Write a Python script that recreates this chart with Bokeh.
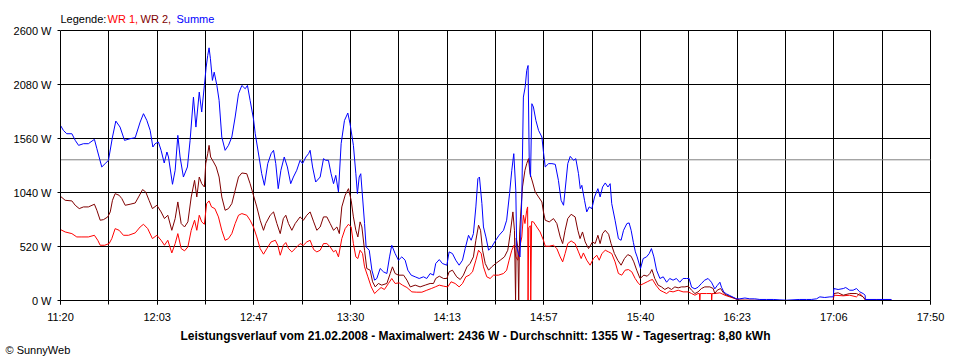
from bokeh.plotting import figure
from bokeh.models import Range1d, FixedTicker, CustomJSTickFormatter, Title
from bokeh.core.properties import value
from bokeh.embed import file_html
from bokeh.resources import INLINE

# ---------------- data (minutes after 11:20, watts) ----------------
x_tick_labels = ["11:20", "12:03", "12:47", "13:30", "14:13", "14:57", "15:40", "16:23", "17:06", "17:50"]
y_ticks = [0, 520, 1040, 1560, 2080, 2600]
avg_w = 1355

wr1_t = [0, 2.1, 5.1, 7.3, 9.6, 12.5, 15.2, 16.7, 17.8, 19.8, 21.8, 23, 24.5, 26.3, 28.2, 30.5, 33.5, 35.7, 37.2, 39.1,
         41.2, 43.2, 45.1, 46.6, 48.1, 49.9, 51.4, 52.6, 54.1, 55.6, 57.1, 58.6, 60.1, 61.1, 62.2, 63.3, 64.5, 65.5, 66.6,
         67.7, 69.2, 70.8, 72.3, 73.8, 75.3, 76.8, 78.3, 79.8, 81.3, 83.5, 85, 86.5, 88, 89.5, 91, 92.5, 94.4, 96.3, 97.4,
         98.5, 99.9, 101, 102.2, 103.7, 105.2, 107.4, 108.9, 110.4, 111.9, 113.5, 114.9, 116.4, 117.9, 119.4, 120.9, 122.4,
         123.4, 124.6, 126.1, 127.6, 129.1, 130.3, 131.3, 132.4, 133.3, 134.3, 135.4, 136.3, 137.8, 139.3, 140.8, 142.3,
         143.7, 145.2, 147, 148.5, 150, 151.8, 153.3, 155.3, 157.5, 159.7, 162, 164.2, 166.2, 168, 169.8, 171.7, 173.6,
         175.1, 176.9, 178.7, 180.2, 181.7, 183.2, 184.7, 186.2, 187.4, 188.6, 189.6, 191.1, 192.6, 194.1, 196.3, 198.6,
         200, 201.1, 202.3, 203.3, 204.1, 205, 205.9, 206.8, 207.5, 208.2, 209, 209.4, 209.6, 209.9, 210.6, 210.8, 211.2,
         212, 213.5, 215, 216.5, 217.3, 219.1, 221, 222.5, 224, 225.1, 226.2, 227.4, 228.9, 230.7, 232.2, 233.4, 234.4,
         235.9, 237.4, 238.9, 240.4, 241.5, 242.7, 244.2, 245.7, 247.1, 248.6, 250.1, 251.6, 253.1, 254.6, 256.1, 257.6,
         259.1, 260, 261.5, 263, 264.5, 265.4, 266.9, 268.7, 270.2, 271.7, 273.1, 274.6, 276.9, 279.1, 281.4, 282.9, 284.4,
         285.8, 286.4, 286.6, 286.8, 289.6, 291.8, 291.9, 292.1, 293.3, 295.6, 297.8, 300, 302.7, 304.5, 320, 346.4, 346.7,
         350.9, 353.8, 356.8, 358.3, 359.8, 360.8, 372.5]
wr1_w = [683, 660, 644, 612, 612, 612, 628, 580, 532, 532, 548, 596, 692, 676, 628, 628, 651, 708, 734, 692,
         596, 628, 580, 532, 580, 458, 548, 644, 500, 478, 516, 676, 773, 676, 821, 757, 734, 933, 959,
         901, 885, 805, 676, 580, 596, 644, 741, 821, 837, 821, 773, 708, 612, 500, 446, 500, 564, 580, 532,
         436, 532, 558, 500, 468, 500, 548, 532, 564, 580, 490, 468, 484, 548, 548, 516, 468,
         484, 420, 596, 692, 734, 708, 548, 420, 404, 484, 452, 324, 228, 131, 67, 99,
         125, 106, 164, 212, 164, 170, 148, 125, 83, 80, 80, 99, 115, 131, 148, 138, 131,
         180, 164, 131, 164, 228, 244, 276, 388, 484, 452, 324, 228, 212, 244, 244, 260,
         292, 388, 484, 532, 420, 388, 516, 612, 821, 741, 869, 901, 0, 700, 720, 0, 760,
         757, 708, 660, 580, 523, 523, 532, 500, 420, 372, 452, 548, 574, 548, 468, 404, 458,
         388, 340, 404, 436, 388, 452, 484, 468, 452, 372, 260, 244, 292, 298, 276, 212,
         164, 148, 164, 180, 196, 202, 148, 99, 83, 67, 90, 83, 99, 83, 83, 67, 51,
         67, 67, 0, 67, 67, 67, 0, 67, 67, 74, 51, 35, 16, 3, 0, 0, 51,
         45, 51, 35, 67, 35, 6, 3]

wr2_t = [0, 2.1, 5.1, 6.6, 8.4, 10.3, 12.5, 15.2, 16.3, 17.8, 19.3, 21.2, 22.3, 23.3, 24.5, 26.3, 27.5, 29, 31.2, 33.5,
         35, 36.8, 38.2, 39.7, 41.2, 43.2, 45.1, 46.6, 48.1, 49.9, 51.4, 52.6, 54.1, 55.6, 57.1, 58.6, 60.1, 61.1, 62.2,
         63.3, 64.5, 65.1, 66, 66.6, 67.3, 68.6, 69.8, 71.1, 72.3, 73.8, 75.3, 76.8, 78.3, 79.8, 81.3, 83.5, 85, 86.5, 88,
         89.5, 91, 92, 94, 95.5, 97, 98.5, 99.9, 101, 102.2, 103.7, 105.2, 107.4, 108.9, 110.4, 111.9, 113.5, 114.9, 116.4,
         117.9, 119.4, 120.9, 122.4, 123.9, 125, 126.1, 127.6, 129.1, 130.3, 131.3, 132.4, 133.3, 134.3, 135.1, 136.3,
         137.3, 138.8, 139.9, 141.1, 142.5, 144, 146.3, 147.8, 148.8, 150, 151.5, 153.8, 155.3, 156.8, 159, 161.2, 163.5,
         165.7, 167.2, 168.2, 169.8, 171.7, 173.2, 174.2, 175.7, 177.6, 179.2, 180.6, 182.2, 183.6, 185.1, 186.2, 187.4,
         188.3, 189.2, 190.4, 191.9, 193.3, 195.1, 197.1, 199, 200.5, 201.6, 202.8, 203.5, 204, 204.3, 205, 205.4, 205.8,
         206.2, 207.1, 208.2, 209, 209.8, 210.5, 211.6, 212.8, 214.3, 215.8, 216.5, 217.3, 219.1, 221, 222.5, 224, 225.1,
         226.2, 227.4, 228.9, 230.7, 231.9, 232.9, 234, 235.2, 236.7, 238.5, 239.7, 240.9, 241.9, 243, 244.2, 245.7,
         246.8, 248.3, 249.8, 251.3, 252.8, 254.3, 255.8, 257, 258.3, 259.8, 261.5, 263, 264.2, 265.1, 266.4, 267.9,
         269.4, 270.9, 272.4, 273.9, 275.4, 276.9, 278.4, 279.9, 281.4, 282.9, 284.4, 285.8, 287.3, 288.8, 291.1, 292.6,
         293.3, 294.4, 295.9, 297.4, 298.8, 300.8, 302.7, 304.5, 320, 346.4, 346.7, 348.6, 350.9, 353.8, 356.8, 359.8,
         360.8, 372.5]
wr2_w = [1003, 965, 959, 917, 885, 901, 901, 927, 869, 773, 779, 805, 853, 965, 1029, 1013, 981, 917, 927, 939,
         997, 1068, 1045, 965, 885, 917, 853, 789, 821, 676, 789, 949, 741, 708, 757, 997, 1157, 997, 1189,
         1125, 1093, 1318, 1414, 1494, 1382, 1334, 1286, 1189, 997, 869, 885, 933, 1061, 1189, 1228, 1221, 1125, 1013, 901,
         773, 676, 741, 821, 853, 741, 644, 789, 821, 741, 676, 741, 805, 773, 821, 853, 757, 676, 708,
         805, 805, 741, 676, 708, 644, 901, 1013, 1077, 965, 805, 676, 612, 757, 708, 484,
         308, 292, 180, 131, 164, 148, 164, 260, 324, 260, 244, 244, 196, 131, 148, 131, 148,
         164, 164, 212, 234, 212, 212, 276, 292, 228, 202, 244, 324, 356, 420, 580, 725,
         676, 484, 356, 292, 324, 356, 388, 420, 484, 644, 853, 676, 0, 600, 516, 0, 640,
         805, 1093, 1254, 1318, 1366, 1221, 1141, 1045, 997, 949, 853, 773, 757, 789, 741, 612, 548,
         676, 789, 830, 805, 676, 596, 660, 564, 500, 564, 548, 628, 548, 644, 676, 638,
         548, 452, 388, 340, 404, 442, 426, 372, 292, 212, 244, 234, 260, 298, 212, 148,
         131, 106, 125, 106, 131, 122, 131, 131, 138, 99, 67, 83, 115, 131, 131, 115,
         67, 99, 115, 67, 51, 35, 16, 3, 0, 0, 67, 74, 51, 67, 67, 35,
         6, 3]

sum_t = [0, 1.3, 2.8, 5.1, 6.6, 8.1, 10.3, 12.5, 15.2, 16.3, 18.5, 20, 21.5, 23.3, 24.8, 26.7, 28.7, 31.2, 33.5, 35.7,
         37.2, 38.7, 40.2, 41.4, 42.4, 43.9, 45.1, 46.5, 47.7, 48.4, 50.2, 51.4, 52.6, 53.6, 55.1, 56.9, 58.1, 59.6, 60.7,
         62.2, 63.3, 64.5, 65.3, 66, 66.6, 67.2, 68.1, 68.9, 70.1, 71.1, 72.3, 73.8, 75.3, 76.8, 78.3, 79.8, 81.3, 82.8,
         83.8, 85, 86.5, 87.3, 89, 90.2, 91.4, 92.9, 94.4, 95.5, 96.5, 97.6, 98.8, 100.3, 101.7, 103.2, 104.4, 105.9, 107.4,
         108.5, 110, 111.2, 111.9, 113, 114.4, 116.4, 117.9, 118.9, 120.1, 121.3, 122.4, 123.4, 124.6, 125.8, 127.3, 128.8,
         129.8, 131.3, 132.4, 133.1, 133.9, 134.6, 135.4, 136.3, 137, 138.4, 139.6, 140.8, 141.8, 143.3, 144.8, 146.3,
         147.5, 148.5, 150, 151.5, 153, 154.5, 155.7, 157.2, 159, 160.8, 162.7, 164.2, 165.7, 167.2, 168.2, 169.8, 171.2,
         173.2, 174.2, 175.7, 177.2, 178.7, 180.2, 181.4, 182.9, 184.1, 185.1, 186.2, 187.1, 187.8, 188.9, 189.6, 190.7,
         191.9, 193.3, 195.1, 196.6, 198.6, 200, 201.3, 202.3, 203.2, 204.1, 204.5, 205.3, 206, 206.8, 207.5, 208.3, 209,
         209.6, 210.1, 210.7, 211.3, 212, 213.1, 214.3, 215.8, 216.5, 217.3, 218.8, 220.3, 221.8, 223.2, 224.4, 225.5,
         226.2, 227.4, 228.5, 230, 231, 232.2, 233, 233.7, 234.9, 235.9, 237, 238.2, 239.4, 240.9, 241.9, 243, 244.2,
         245.4, 246.4, 247.1, 248.6, 250.1, 251.3, 252.4, 253.9, 254.9, 255.8, 256.8, 257.7, 258.5, 260, 261.2, 262.7,
         263.9, 264.9, 266, 267.2, 268.7, 270.2, 271.7, 273.1, 274.6, 276.1, 277.6, 279.1, 280.6, 281.8, 282.9, 284.4,
         285.8, 287.3, 288.8, 290.3, 291.8, 293.3, 294.4, 295.6, 296.3, 297.4, 298.5, 300, 301.5, 303, 304.5, 306.8, 309,
         311.2, 313.5, 316.5, 319.5, 322.5, 325.5, 331.4, 334.4, 336.6, 338.9, 340.4, 342.6, 344.9, 346.4, 346.7, 348.6,
         350.9, 352, 353.8, 355.3, 356.8, 358.3, 359.8, 360.7, 360.8, 365.8, 372.5]
sum_w = [1686, 1638, 1606, 1606, 1542, 1494, 1510, 1510, 1552, 1462, 1286, 1318, 1350, 1574, 1728, 1670, 1542, 1558, 1568, 1718,
         1799, 1734, 1638, 1478, 1510, 1526, 1446, 1324, 1430, 1382, 1119, 1254, 1590, 1382, 1189, 1286, 1542, 1959, 1670,
         2007, 1815, 2071, 2247, 2360, 2433, 2328, 2119, 2199, 2071, 1927, 1574, 1446, 1494, 1574, 1767, 1991, 2071, 2039,
         2071, 1927, 1750, 1606, 1382, 1221, 1109, 1318, 1414, 1446, 1318, 1077, 1254, 1382, 1286, 1125, 1189, 1254, 1350,
         1318, 1382, 1414, 1446, 1286, 1141, 1189, 1366, 1350, 1350, 1221, 1125, 1205, 1045, 1510, 1734, 1805,
         1702, 1494, 1221, 1029, 1189, 1221, 997, 741, 516, 484, 292, 196, 212, 308, 276, 260,
         420, 532, 452, 388, 420, 388, 292, 244, 228, 212, 228, 212, 260, 244, 356, 394, 356,
         340, 468, 452, 388, 340, 388, 500, 628, 580, 644, 901, 1173, 1189, 933, 708, 612,
         484, 516, 580, 628, 676, 773, 1029, 1254, 1414, 1061, 516, 452, 420, 997, 1959, 2055, 2215,
         2263, 1382, 1189, 1895, 1863, 1734, 1638, 1574, 1430, 1286, 1318, 1318, 1311, 1157, 965, 917,
         1061, 1318, 1388, 1350, 1366, 1221, 1077, 1109, 965, 853, 901, 885, 997, 1077, 997, 1093, 1132,
         1093, 1125, 933, 773, 596, 580, 676, 741, 747, 676, 560, 468, 420, 308, 404, 420,
         452, 500, 420, 292, 212, 228, 176, 212, 196, 212, 176, 212, 212, 212, 128, 112,
         128, 164, 196, 212, 176, 112, 144, 176, 128, 80, 64, 48, 32, 16, 16, 24, 16,
         16, 10, 10, 10, 6, 3, 10, 10, 10, 16, 35, 29, 35, 35, 115, 106,
         115, 125, 99, 99, 115, 83, 67, 51, 10, 10, 10]

title_text = ("Leistungsverlauf vom 21.02.2008 - Maximalwert: 2436 W - Durchschnitt: 1355 W"
              " - Tagesertrag: 8,80 kWh")
copyright_text = "\u00a9 SunnyWeb"
legend_texts = ["Legende: ", "WR 1, ", "WR 2, ", "Summe"]
legend_colors = ["black", "#FF0000", "#800000", "#0000FF"]

# ---------------- figure ----------------
X_END = 390.0
Y_END = 2600.0
FONT = "Liberation Sans"
# the frame is a little larger than the chart box so that the legend line above it can be drawn
BOX_W, FRAME_W = 870.0, 880.0
BOX_H, FRAME_H = 270.0, 300.0

p = figure(width=960, height=360, output_backend="svg", toolbar_location=None, title=None,
           x_range=Range1d(0, X_END * FRAME_W / BOX_W), y_range=Range1d(0, Y_END * FRAME_H / BOX_H),
           min_border_left=60, min_border_right=20, min_border_top=0, min_border_bottom=60,
           background_fill_color="white", border_fill_color="white")
p.outline_line_color = None

n_lab = len(x_tick_labels)
lab_ticks = [i * X_END / (n_lab - 1) for i in range(n_lab)]
all_ticks = [i * X_END / (2 * (n_lab - 1)) for i in range(2 * (n_lab - 1) + 1)]

p.xaxis.ticker = FixedTicker(ticks=lab_ticks, minor_ticks=all_ticks)
p.xaxis.formatter = CustomJSTickFormatter(
    args=dict(labels=x_tick_labels, step=X_END / (n_lab - 1)),
    code="return labels[Math.round(tick / step)];")
p.yaxis.ticker = FixedTicker(ticks=y_ticks)
p.yaxis.formatter = CustomJSTickFormatter(code="return tick + ' W';")
p.xaxis.bounds = (0, X_END)
p.yaxis.bounds = (0, Y_END)

p.xgrid.ticker = FixedTicker(ticks=all_ticks)
p.ygrid.ticker = FixedTicker(ticks=y_ticks)
have_cross = "cross_bounds" in p.xgrid.properties()
for g in (p.xgrid, p.ygrid):
    g.grid_line_color = "black"
    g.grid_line_alpha = 1.0
    g.grid_line_width = 1
if have_cross:
    p.xgrid.cross_bounds = (0, Y_END)
    p.ygrid.cross_bounds = (0, X_END)

for ax in (p.xaxis, p.yaxis):
    ax.axis_line_color = "black"
    ax.major_tick_line_color = "black"
    ax.major_tick_in = 0
    ax.major_label_text_font = FONT
    ax.major_label_text_font_size = "11px"
    ax.major_label_text_color = "black"

p.xaxis.major_tick_out = 4
p.xaxis.minor_tick_out = 4
p.xaxis.minor_tick_in = 0
p.xaxis.minor_tick_line_color = "black"
p.xaxis.major_label_standoff = 6
p.yaxis.major_tick_out = 3
p.yaxis.minor_tick_line_color = None
p.yaxis.major_label_standoff = 6

if not have_cross:
    # hide grid lines above the chart box
    p.quad(left=[0], right=[X_END * FRAME_W / BOX_W], bottom=[Y_END], top=[Y_END * FRAME_H / BOX_H],
           fill_color="white", line_color=None)

# average line
p.segment(x0=[0], x1=[X_END], y0=[avg_w], y1=[avg_w], line_color="#808080", line_width=1)

p.line(wr1_t, wr1_w, line_color="#FF0000", line_width=1)
p.line(wr2_t, wr2_w, line_color="#800000", line_width=1)
p.line(sum_t, sum_w, line_color="#0000FF", line_width=1)

# legend line above the chart box
p.text(x=[0] * len(legend_texts), y=[Y_END] * len(legend_texts), text=legend_texts,
       text_color=legend_colors, x_offset=[0, 47, 80, 116], y_offset=-12,
       text_font=value(FONT), text_font_size="11px", text_baseline="alphabetic", text_align="left")

p.add_layout(Title(text=title_text, align="left", offset=120, text_font=FONT, text_font_size="12px",
                   text_font_style="bold", text_color="black", standoff=3), "below")
p.add_layout(Title(text=copyright_text, align="left", offset=-55, text_font=FONT, text_font_size="11px",
                   text_font_style="normal", text_color="black", standoff=-5), "below")

open("out.html", "w").write(file_html(p, INLINE))
